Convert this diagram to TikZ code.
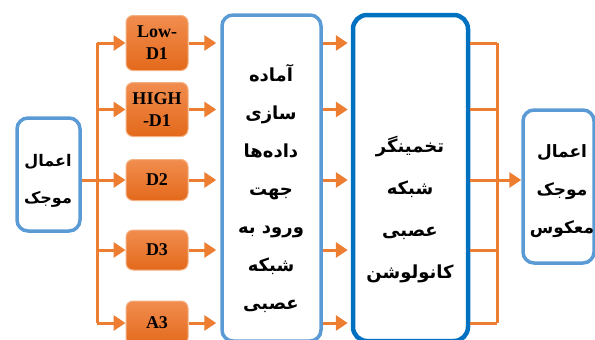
\documentclass[tikz,border=0pt]{standalone}
\usepackage{fontspec}
\setmainfont{Liberation Serif}
\newfontfamily\arabicfont[Script=Arabic]{DejaVu Sans}
\TeXXeTstate=1
\usepackage{tikz}
\usetikzlibrary{arrows.meta}
\usepackage{xcolor}

\definecolor{arrorange}{HTML}{ED7D31}
\definecolor{boxtop}{HTML}{F18D4F}
\definecolor{boxbot}{HTML}{E3691B}
\definecolor{boxedge}{HTML}{F4B183}
\definecolor{lightblue}{HTML}{5B9BD5}
\definecolor{darkblue}{HTML}{0070C0}

\newcommand{\fa}[1]{\beginR #1\endR}

\begin{document}
\begin{tikzpicture}[x=1pt, y=-1pt,
    wire/.style={arrorange, line width=3pt},
    arr/.style={wire, -{Triangle[length=12pt, width=15pt]}},
    bandbox/.style={rectangle, rounded corners=7pt, draw=boxedge, line width=1pt,
        top color=boxtop, bottom color=boxbot, minimum width=62pt,
        font=\bfseries\fontsize{18}{22}\selectfont, align=center, inner sep=1pt},
    bluebox/.style={rectangle, rounded corners=11pt, draw=lightblue, line width=3.5pt},
    cnnbox/.style={rectangle, rounded corners=14pt, draw=darkblue, line width=4.5pt},
    fatext/.style={font=\arabicfont\bfseries\fontsize{17}{38}\selectfont, align=center}]
        \clip (0,0) rectangle (595,340);

        % Wavelet transform (input)
        \node[bluebox, minimum width=63pt, minimum height=113pt] (wav) at (48.5,174.5) {};
        \node[fatext, font=\arabicfont\bfseries\fontsize{16}{37}\selectfont] (wavtxt) at (48,181) {\fa{اعمال}\\\fa{موجک}};

        % Sub-bands
        \node[bandbox, minimum height=55pt] (low) at (157,43) {Low-\\D1};
        \node[bandbox, minimum height=54pt] (high) at (157,109.5) {HIGH\\-D1};
        \node[bandbox, minimum height=41pt] (d2) at (157,180) {D2};
        \node[bandbox, minimum height=40pt] (d3) at (157,250) {D3};
        \node[bandbox, minimum height=44pt] (a3) at (157,323) {A3};

        % Data preparation
        \node[bluebox, minimum width=99pt, minimum height=326pt] (prep) at (271.5,178) {};
        \node[fatext, font=\arabicfont\bfseries\fontsize{18}{38}\selectfont] (preptxt) at (271,188) {\fa{آماده}\\\fa{سازی}\\\fa{داده‌ها}\\\fa{جهت}\\\fa{ورود به}\\\fa{شبکه}\\\fa{عصبی}};

        % CNN estimator
        \node[cnnbox, minimum width=115pt, minimum height=326pt] (cnn) at (410.5,178) {};
        \node[fatext, font=\arabicfont\bfseries\fontsize{18}{42}\selectfont] (cnntxt) at (410,210) {\fa{تخمینگر}\\\fa{شبکه}\\\fa{عصبی}\\\fa{کانولوشن}};

        % Inverse wavelet transform (output)
        \node[bluebox, minimum width=71pt, minimum height=153pt] (inv) at (558.5,186.5) {};
        \node[fatext] (invtxt) at (562,191) {\fa{اعمال}\\\fa{موجک}\\\fa{معکوس}};

        % Split and join points
        \coordinate (split) at (97,180);
        \coordinate (join) at (497,180);

        % Input fan-out
        \draw[wire] (split |- low) -- (split |- a3);
        \draw[arr] (wav.east |- d2) -- (d2.west);
        \foreach \b in {low,high,d3,a3}
            \draw[arr] (split |- \b) -- (\b.west);

        % Sub-bands through preparation into the CNN
        \foreach \b in {low,high,d2,d3,a3} {
            \draw[arr, shorten >=4pt] (\b.east) -- (\b -| prep.west);
            \draw[arr, shorten >=3pt] (\b -| prep.east) -- (\b -| cnn.west);
            \draw[wire] (\b -| cnn.east) -- (\b -| join);
        }

        % Output join
        \draw[wire] (join |- low) -- (join |- a3);
        \draw[arr] (join) -- (join -| inv.west);
\end{tikzpicture}
\end{document}
